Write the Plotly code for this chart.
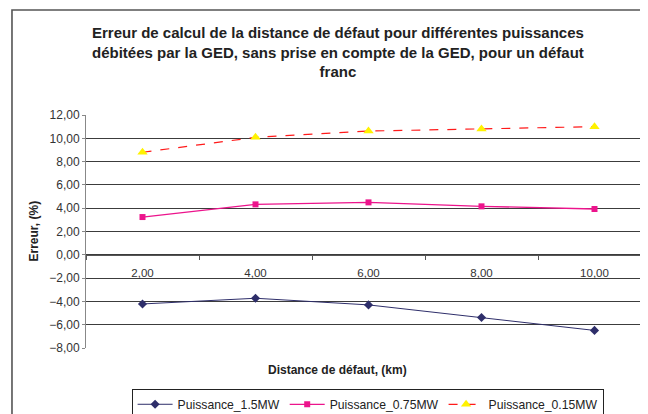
import plotly.graph_objects as go

# distance de défaut (km), labels as printed on the category axis
distances = ["2,00", "4,00", "6,00", "8,00", "10,00"]

# erreur (%) per injected power
p_1_5mw = [-4.22, -3.73, -4.30, -5.38, -6.49]
p_0_75mw = [3.24, 4.33, 4.50, 4.16, 3.93]
p_0_15mw = [8.80, 10.08, 10.62, 10.80, 11.00]

y_ticks = [-8, -6, -4, -2, 0, 2, 4, 6, 8, 10, 12]

FONT = "Liberation Sans, Arial, sans-serif"

fig = go.Figure()
fig.add_trace(go.Scatter(x=distances, y=p_1_5mw, name="Puissance_1.5MW",
                         mode="lines+markers",
                         line=dict(color="#2E2E6A", width=1),
                         marker=dict(symbol="diamond", size=7, color="#2E2E6A")))
fig.add_trace(go.Scatter(x=distances, y=p_0_75mw, name="Puissance_0.75MW",
                         mode="lines+markers",
                         line=dict(color="#EC148C", width=1.3),
                         marker=dict(symbol="square", size=6, color="#EC148C")))
fig.add_trace(go.Scatter(x=distances, y=p_0_15mw, name="Puissance_0.15MW",
                         mode="lines+markers",
                         line=dict(color="#FF1A1A", width=1.2, dash="dash"),
                         marker=dict(symbol="triangle-up", size=9, color="#FFF200")))

# outer chart-area frame (cropped on the right and bottom like the original)
fig.add_shape(type="rect", xref="paper", yref="paper",
              x0=-0.131, x1=1.02, y0=-0.40, y1=1.4506,
              line=dict(color="#555555", width=1.6), fillcolor="rgba(0,0,0,0)",
              layer="below")

fig.add_annotation(text="<b>Erreur de calcul de la distance de défaut pour différentes puissances<br>"
                        "débitées par la GED, sans prise en compte de la GED, pour un défaut<br>"
                        "franc</b>",
                   xref="paper", yref="paper", x=0.446, y=1.2708, xanchor="center",
                   yanchor="middle", showarrow=False, align="center",
                   font=dict(family=FONT, size=15, color="#222222"))
fig.add_annotation(text="<b>Erreur, (%)</b>", xref="paper", yref="paper",
                   x=-0.0938, y=0.5, textangle=-90, showarrow=False,
                   xanchor="center", yanchor="middle",
                   font=dict(family=FONT, size=12, color="#222222"))
fig.add_annotation(text="<b>Distance de défaut, (km)</b>", xref="paper", yref="paper",
                   x=0.445, y=-0.094, showarrow=False,
                   xanchor="center", yanchor="middle",
                   font=dict(family=FONT, size=12, color="#222222"))

# the page body adds an 8px offset, so margins are shifted by that amount
fig.update_layout(
    width=648, height=414,
    margin=dict(l=78, r=5, t=107, b=74, autoexpand=False),
    paper_bgcolor="white", plot_bgcolor="white",
    separators=", ",
    font=dict(family=FONT, size=11.5, color="#333333"),
    showlegend=True,
    legend=dict(orientation="h", x=0.0807, y=-0.175, xanchor="left", yanchor="top",
                bordercolor="#222222", borderwidth=1, itemwidth=35,
                font=dict(family=FONT, size=12.2, color="#222222"),
                bgcolor="white", tracegroupgap=0),
    xaxis=dict(type="category", range=[-0.5, 4.5], anchor="free", position=0.4,
               showline=True, linecolor="#555555", linewidth=1,
               ticks="outside", ticklen=4, tickcolor="#555555", tickson="boundaries",
               ticklabelstandoff=7,
               showgrid=False, zeroline=False,
               tickfont=dict(family=FONT, size=11.5, color="#333333")),
    yaxis=dict(range=[-8, 12], tickvals=y_ticks, tickformat=".2f",
               showgrid=True, gridcolor="#3C3C3C", gridwidth=1,
               showline=True, linecolor="#888888", linewidth=1,
               ticks="outside", ticklen=3, tickcolor="#888888",
               zeroline=False,
               tickfont=dict(family=FONT, size=12, color="#333333")),
)

fig.write_html("out.html")
